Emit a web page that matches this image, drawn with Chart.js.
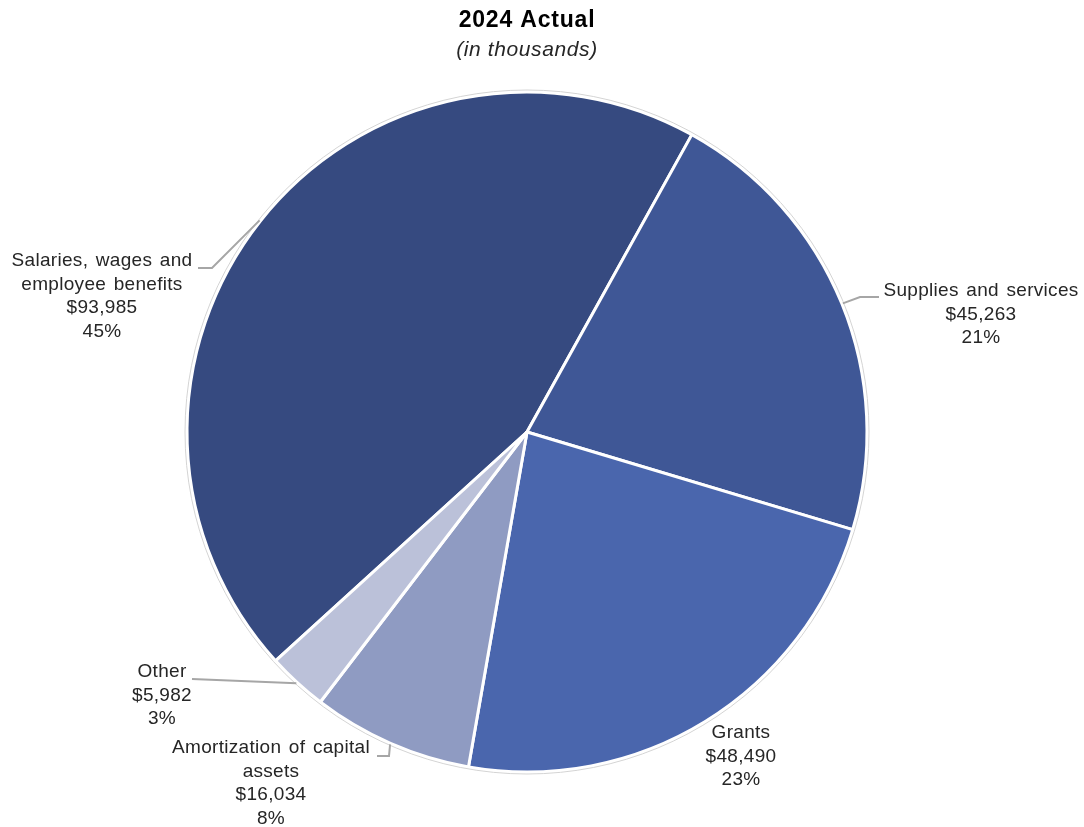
<!DOCTYPE html>
<html>
<head>
<meta charset="utf-8">
<script src="https://cdn.jsdelivr.net/npm/chart.js@4.4.1/dist/chart.umd.min.js"></script>
<style>
  html, body { margin: 0; padding: 0; background: #fff; }
  #wrap { width: 1084px; height: 827px; }
</style>
</head>
<body>
<div id="wrap"><canvas id="pieChart" width="1084" height="827"></canvas></div>
<script>
// 2024 actual expenses, in thousands
const categories = ['Salaries, wages and employee benefits', 'Supplies and services', 'Grants', 'Amortization of capital assets', 'Other'];
const amounts = [93985, 45263, 48490, 16034, 5982];
const percents = ['45%', '21%', '23%', '8%', '3%'];
const labelLines = [
    ['Salaries, wages and', 'employee benefits'],
    ['Supplies and services'],
    ['Grants'],
    ['Amortization of capital', 'assets'],
    ['Other']
];
const sliceColors = ['#364A80', '#3F5796', '#4A66AD', '#8F9BC2', '#BBC1D9'];

// where each label sits, relative to the pie centre (text = first line centre)
const labelLayout = [
    { text: [-425, -171], leader: [[-315, -164], [-329, -164]] },
    { text: [454, -141], leader: [[333, -135], [352, -135]] },
    { text: [214, 301], leader: null },
    { text: [-256, 316], leader: [[-138, 324], [-150, 324]] },
    { text: [-365, 240], leader: [[-335, 247]] }
];

const fmt = v => '$' + v.toLocaleString('en-US');
const FONT = '"Liberation Sans", Arial, sans-serif';

const pieLabels = {
    id: 'pieLabels',
    afterDatasetsDraw(chart) {
        const ctx = chart.ctx;
        const arcs = chart.getDatasetMeta(0).data;
        const cx = arcs[0].x, cy = arcs[0].y, r = arcs[0].outerRadius;

        ctx.save();
        // thin grey outline around the pie
        ctx.beginPath();
        ctx.arc(cx, cy, r + 2, 0, Math.PI * 2);
        ctx.strokeStyle = '#d4d4d4';
        ctx.lineWidth = 1;
        ctx.stroke();

        // leader lines
        ctx.strokeStyle = '#a6a6a6';
        ctx.lineWidth = 2;
        arcs.forEach((arc, i) => {
            const lay = labelLayout[i];
            if (!lay.leader) return;
            const mid = (arc.startAngle + arc.endAngle) / 2;
            ctx.beginPath();
            ctx.moveTo(cx + Math.cos(mid) * (r + 1), cy + Math.sin(mid) * (r + 1));
            lay.leader.forEach(p => ctx.lineTo(cx + p[0], cy + p[1]));
            ctx.stroke();
        });

        // label text
        ctx.fillStyle = '#262626';
        ctx.font = '19px ' + FONT;
        ctx.letterSpacing = '0.3px';
        ctx.wordSpacing = '2px';
        ctx.textAlign = 'center';
        ctx.textBaseline = 'middle';
        categories.forEach((c, i) => {
            const lines = labelLines[i].concat([fmt(amounts[i]), percents[i]]);
            const lay = labelLayout[i];
            lines.forEach((t, k) => ctx.fillText(t, cx + lay.text[0], cy + lay.text[1] + k * 23.5));
        });

        // title
        ctx.wordSpacing = '0px';
        ctx.fillStyle = '#000';
        ctx.font = 'bold 23px ' + FONT;
        ctx.letterSpacing = '0.8px';
        ctx.fillText('2024 Actual', cx, 21);
        ctx.fillStyle = '#262626';
        ctx.font = 'italic 21px ' + FONT;
        ctx.letterSpacing = '0.6px';
        ctx.fillText('(in thousands)', cx, 50);
        ctx.restore();
    }
};

new Chart(document.getElementById('pieChart'), {
    type: 'pie',
    data: {
        labels: categories,
        datasets: [{
            data: amounts,
            backgroundColor: sliceColors,
            borderColor: '#ffffff',
            borderWidth: 3,
            radius: 340
        }]
    },
    options: {
        responsive: false,
        animation: false,
        rotation: -132.3,
        layout: { padding: { left: 0, right: 30, top: 37, bottom: 0 } },
        plugins: {
            legend: { display: false },
            tooltip: { enabled: false }
        }
    },
    plugins: [pieLabels]
});
</script>
</body>
</html>
